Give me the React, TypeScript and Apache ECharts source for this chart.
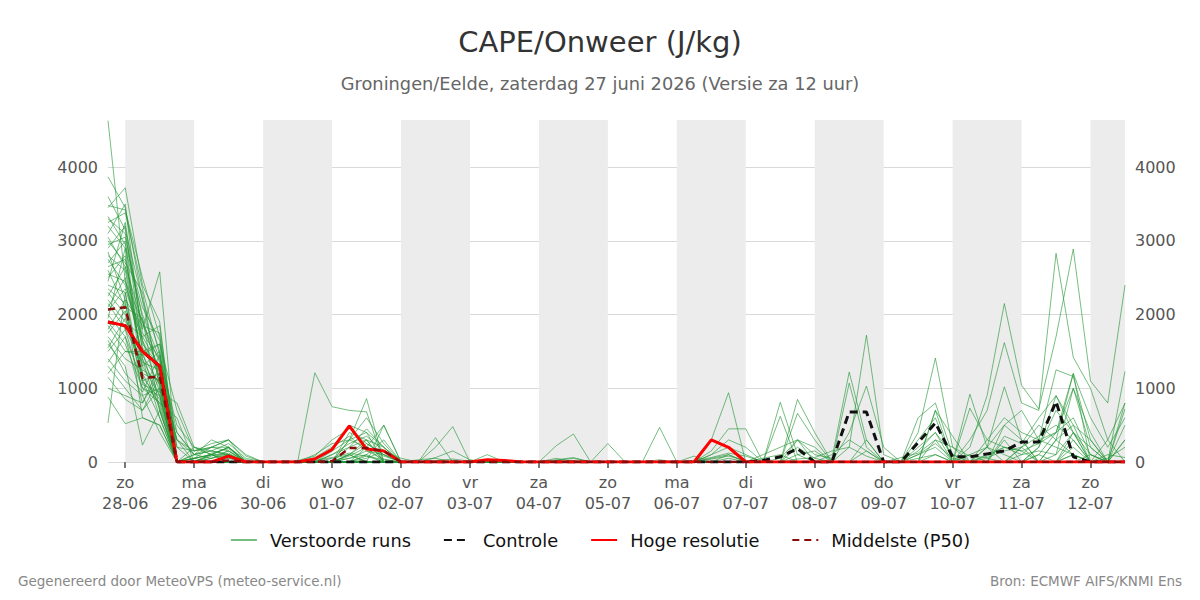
import React, { useEffect, useRef } from "react";
import * as echarts from "echarts";

// Tick labels (day boundaries)
const dayLabels = [
  "zo\n28-06", "ma\n29-06", "di\n30-06", "wo\n01-07", "do\n02-07", "vr\n03-07", "za\n04-07",
  "zo\n05-07", "ma\n06-07", "di\n07-07", "wo\n08-07", "do\n09-07", "vr\n10-07", "za\n11-07", "zo\n12-07",
];

// 6-hourly steps from 27-06 18u to 12-07 12u (60 points)
const hres = [1900,1850,1500,1300,0, 0,0,80,0, 0,0,0,40, 170,490,175,150, 0,0,0,0, 0,30,20,0, 0,0,0,0, 0,0,0,0, 0,0,300,200, 0,0,0,0, 0,0,0,0, 0,0,0,0, 0,0,0,0, 0,0,0,0, 0,0,0];
const control = [1900,1850,1500,1300,0, 0,0,0,0, 0,0,0,0, 0,0,0,0, 0,0,0,0, 0,0,0,0, 0,0,0,0, 0,0,0,0, 0,0,0,0, 0,20,70,180, 0,0,680,680, 0,0,265,530, 70,70,110,150, 270,270,820,70, 0,0,0];
const p50 = [2070,2100,1140,1160,0, 0,0,20,0, 0,0,0,0, 10,190,190,150, 0,0,0,0, 0,0,0,0, 0,0,0,0, 0,0,0,0, 0,0,0,0, 0,0,0,0, 0,0,0,0, 0,0,0,0, 0,0,0,0, 0,0,0,0, 0,0,0];

const m01 = [4630,2450,1900,1200,300, 100,150,250,50, 0,0,0,20, 60,120,80,30, 0,0,20,40, 10,0,0,0, 0,30,60,0, 0,0,10,0, 0,20,60,120, 80,0,0,40, 60,150,200,80, 0,60,120,300, 200,80,60,150, 200,350,500,300, 0,100,60];
const m02 = [3870,3450,2200,1500,0, 0,50,120,0, 0,0,0,60, 200,350,150,40, 0,0,0,10, 0,0,0,0, 0,0,20,0, 0,0,0,30, 0,0,40,80, 20,0,0,100, 150,0,200,1720, 100,0,100,250, 50,0,80,200, 150,250,400,600, 100,0,300];
const m03 = [3480,3420,2500,1700,200, 150,200,300,80, 0,0,20,80, 300,450,250,100, 0,0,60,150, 30,0,0,0, 0,0,0,0, 0,0,0,0, 0,0,100,200, 100,0,50,300, 100,50,1220,300, 0,0,150,400, 100,0,0,300, 0,200,900,400, 0,0,500];
const m04 = [3450,3720,2400,1900,0, 50,100,200,0, 0,0,0,0, 100,200,450,200, 0,0,0,0, 0,20,0,0, 0,0,0,0, 0,0,0,0, 0,0,0,50, 0,0,0,0, 0,0,400,1030, 200,0,0,700, 350,0,200,500, 300,0,100,1000, 400,0,0];
const m05 = [3300,3100,1800,2580,0, 0,80,150,0, 0,0,0,0, 0,80,200,500, 0,0,0,0, 0,0,0,0, 0,20,50,0, 0,0,0,0, 0,0,100,300, 200,0,0,0, 0,0,0,0, 0,0,300,600, 0,0,0,0, 0,0,0,100, 0,300,800];
const m06 = [3200,2900,2000,1400,500, 200,100,200,30, 0,0,0,40, 150,300,600,250, 0,0,0,0, 0,0,0,0, 0,0,0,0, 0,0,0,0, 0,0,0,0, 0,0,0,300, 200,0,1070,200, 0,0,0,0, 0,0,100,200, 150,0,300,1200, 0,0,0];
const m07 = [3100,3500,1600,1300,0, 0,0,50,0, 0,0,0,0, 0,50,100,0, 0,0,0,0, 0,0,0,0, 0,0,0,0, 0,0,0,0, 0,0,0,100, 0,0,0,200, 50,0,0,0, 0,0,400,1410, 200,0,50,0, 0,100,0,0, 0,0,0];
const m08 = [3000,2700,2300,1000,0, 100,150,100,0, 0,0,0,0, 50,100,300,200, 0,0,0,0, 0,0,0,0, 0,0,0,0, 0,0,0,0, 0,0,0,0, 0,0,0,0, 0,0,0,0, 0,0,0,0, 0,200,900,2150, 1040,720,1700,2890, 1100,800,2400];
const m09 = [2900,3200,1500,1600,700, 150,250,300,100, 0,0,0,0, 0,100,250,100, 0,0,0,0, 0,0,0,0, 0,0,0,0, 0,0,0,0, 0,0,0,0, 0,0,0,0, 0,0,0,0, 0,0,200,400, 0,300,700,1620, 800,700,2830,1420, 1000,300,0];
const m10 = [2800,2600,1400,900,0, 0,100,200,0, 0,0,0,0, 0,0,50,150, 0,0,0,0, 0,0,0,0, 0,0,0,0, 0,0,0,0, 0,0,0,0, 0,50,100,0, 0,0,0,0, 0,0,0,100, 0,0,200,1020, 300,0,0,200, 0,0,0];
const m11 = [2750,2400,1700,1850,0, 50,100,0,0, 0,0,0,0, 0,0,80,0, 0,0,0,0, 0,0,0,0, 0,0,0,0, 0,0,0,0, 0,0,0,0, 0,0,0,0, 0,0,0,0, 0,0,0,300, 0,730,300,200, 100,150,100,400, 200,0,0];
const m12 = [2700,3000,1200,1100,300, 150,200,150,0, 0,0,0,0, 0,400,300,0, 0,0,0,0, 0,0,0,0, 0,0,0,0, 0,0,0,0, 0,0,0,0, 0,0,0,0, 0,0,0,0, 0,0,0,0, 0,0,0,0, 100,300,1250,1160, 300,0,0];
const m13 = [2600,2100,1950,700,0, 0,0,100,0, 0,0,0,0, 0,0,0,0, 0,0,0,0, 0,0,0,0, 0,50,0,0, 0,0,0,0, 0,0,0,0, 0,0,0,0, 0,0,0,0, 0,0,50,100, 0,0,0,0, 0,100,400,1200, 600,200,600];
const m14 = [2500,2800,1300,1500,0, 0,50,100,0, 0,0,0,0, 0,200,300,0, 0,0,0,0, 0,0,0,0, 0,0,0,0, 0,0,0,0, 0,0,0,0, 0,0,0,0, 0,0,0,0, 0,0,600,800, 100,0,0,0, 200,0,0,400, 100,0,0];
const m15 = [2400,2300,900,1000,400, 100,200,200,0, 0,0,0,0, 0,100,0,0, 0,0,0,0, 0,0,0,0, 0,0,0,0, 0,0,0,0, 0,0,0,0, 0,0,0,0, 0,0,0,0, 0,0,0,700, 0,0,0,0, 0,0,0,0, 100,0,300];
const m16 = [2300,2000,1100,800,0, 0,0,0,0, 0,0,0,0, 0,50,150,100, 0,0,0,0, 0,0,0,0, 0,0,0,0, 0,0,0,0, 0,0,50,100, 0,0,0,0, 0,0,0,0, 0,0,0,0, 0,100,200,100, 0,0,0,300, 0,0,1230];
const m17 = [2200,1900,1700,1300,0, 50,100,50,0, 0,0,0,0, 0,0,0,0, 0,0,0,0, 0,0,0,0, 0,0,0,0, 0,0,0,0, 0,0,0,0, 0,0,0,0, 0,100,300,150, 0,0,0,0, 0,0,0,0, 200,500,300,100, 0,0,800];
const m18 = [2100,2500,1400,600,0, 0,0,100,0, 0,0,0,0, 0,300,400,200, 0,0,0,0, 0,0,0,0, 0,0,0,0, 0,0,0,0, 0,0,0,0, 0,0,0,0, 0,0,0,0, 0,0,0,0, 0,0,0,0, 0,0,0,0, 0,0,720];
const m19 = [2000,1700,800,1200,200, 0,0,0,0, 0,0,0,0, 0,0,0,0, 0,0,0,0, 0,0,0,0, 0,0,0,0, 0,0,0,0, 0,0,0,0, 0,0,0,850, 400,0,0,0, 0,0,0,0, 0,0,0,0, 0,0,0,0, 0,0,0];
const m20 = [1900,1600,1000,900,0, 0,0,0,0, 0,0,0,0, 0,0,0,0, 0,0,0,0, 0,0,0,0, 0,0,0,0, 0,0,0,0, 0,0,0,0, 0,0,810,100, 0,0,0,0, 0,0,0,0, 0,0,0,0, 0,0,0,0, 0,0,0];
const m21 = [1800,2200,600,500,0, 0,0,0,0, 0,0,0,0, 0,0,0,0, 0,0,0,0, 0,0,0,0, 0,0,0,0, 0,0,0,0, 0,0,300,940, 0,0,0,0, 0,0,0,0, 0,0,0,0, 0,0,0,0, 0,0,0,0, 0,0,0];
const m22 = [1700,1400,1250,1100,0, 0,0,0,0, 0,0,0,1210, 750,700,680,0, 0,0,0,0, 0,0,0,0, 0,0,0,0, 0,0,0,0, 0,0,0,0, 0,0,0,0, 0,0,0,0, 0,0,0,0, 0,0,0,0, 0,0,0,0, 0,0,0];
const m23 = [1600,1300,230,700,0, 0,0,0,0, 0,0,0,0, 0,300,860,0, 0,0,0,0, 0,0,0,0, 0,0,0,0, 0,0,0,0, 0,0,0,0, 0,0,0,0, 0,0,0,0, 0,0,0,0, 0,0,0,0, 0,0,0,0, 0,0,0];
const m24 = [1500,1800,1000,800,600, 0,0,0,0, 0,0,0,0, 0,0,0,500, 0,0,0,0, 0,0,0,0, 0,0,0,0, 0,0,0,0, 0,0,0,0, 0,0,0,0, 0,0,0,0, 0,0,0,0, 0,0,0,0, 0,0,0,0, 0,0,0];
const m25 = [1400,1100,900,400,0, 0,0,0,0, 0,0,0,0, 0,0,0,0, 0,0,200,480, 0,0,0,0, 0,0,0,0, 0,0,0,0, 0,0,0,0, 0,0,0,0, 0,0,0,0, 0,0,0,0, 0,0,0,0, 0,0,0,0, 0,0,0];
const m26 = [1300,1000,700,1000,0, 0,0,0,0, 0,0,0,0, 0,0,0,0, 0,0,330,0, 0,0,0,0, 0,0,0,0, 0,0,0,0, 0,0,0,0, 0,0,0,0, 0,0,0,0, 0,0,0,0, 0,0,0,0, 0,0,0,0, 0,0,0];
const m27 = [1200,1500,1500,700,0, 0,0,0,0, 0,0,0,0, 0,0,0,0, 0,0,0,0, 0,0,0,0, 0,220,380,0, 0,0,0,0, 0,0,0,0, 0,0,0,0, 0,0,0,0, 0,0,0,0, 0,0,0,0, 0,0,0,0, 0,0,0];
const m28 = [1000,900,800,1300,0, 0,0,0,0, 0,0,0,0, 0,0,0,0, 0,0,0,0, 0,0,0,0, 0,0,0,0, 250,0,0,0, 0,0,0,0, 0,0,0,0, 0,0,0,0, 0,0,0,0, 0,0,0,0, 0,0,0,0, 0,0,0];
const m29 = [880,520,600,500,0, 0,0,0,0, 0,0,0,0, 0,0,0,0, 0,0,0,0, 0,0,0,0, 0,0,0,0, 0,0,0,470, 0,0,0,0, 0,0,0,0, 0,0,0,0, 0,0,0,0, 0,0,0,0, 0,0,0,0, 0,0,0];
const m30 = [530,2300,1100,600,0, 0,0,0,0, 0,0,0,0, 0,0,0,0, 0,0,0,0, 0,0,0,0, 0,0,0,0, 0,0,0,0, 0,0,0,0, 0,0,0,660, 300,0,0,0, 0,0,0,0, 0,0,0,0, 0,0,0,0, 0,0,0];
const m31 = [3330,2950,2100,1650,0, 0,120,180,0, 0,0,0,100, 250,300,200,80, 0,30,50,0, 0,0,0,0, 0,0,0,0, 0,0,0,0, 0,0,0,0, 0,100,200,300, 0,0,0,150, 0,0,100,200, 0,0,300,600, 400,300,200,100, 0,50,200];
const m32 = [3250,3380,2350,1450,400, 100,50,150,0, 0,0,0,0, 100,250,350,150, 50,0,0,0, 0,100,0,0, 0,0,0,0, 0,0,0,0, 0,80,0,0, 0,0,0,0, 0,0,0,0, 0,0,0,0, 0,0,0,350, 250,600,900,500, 0,0,0];
const m33 = [3050,2650,1550,1250,0, 200,150,100,0, 0,0,0,0, 0,0,100,300, 0,0,0,0, 0,0,0,0, 0,0,0,0, 0,0,0,0, 0,0,150,450, 450,0,0,0, 0,0,0,300, 0,0,0,0, 0,0,0,0, 0,0,0,0, 0,0,0];
const m34 = [2950,3050,1950,1150,0, 0,100,100,0, 0,0,0,0, 0,0,0,0, 0,0,0,0, 0,0,0,0, 0,0,0,0, 0,0,0,0, 0,0,0,0, 0,0,620,0, 0,0,0,0, 0,0,0,0, 0,0,0,500, 700,300,400,1000, 200,0,0];
const m35 = [2850,2200,1850,1750,0, 50,200,300,0, 0,0,0,0, 150,500,400,0, 0,0,0,0, 0,0,0,0, 0,0,0,0, 0,0,0,0, 0,0,0,0, 0,0,0,0, 0,0,0,0, 0,0,0,0, 0,100,0,0, 0,0,0,0, 0,0,0];
const m36 = [2650,2750,1650,950,0, 0,0,80,0, 0,0,0,0, 0,0,0,0, 0,0,0,0, 0,0,0,0, 0,0,0,0, 0,0,0,0, 0,0,0,0, 0,0,0,0, 0,0,0,0, 0,0,0,0, 0,920,200,0, 0,0,0,0, 0,0,0];
const m37 = [2550,2450,1450,1050,0, 0,0,0,0, 0,0,0,0, 0,0,0,0, 0,0,0,0, 0,0,0,0, 0,0,0,0, 0,0,0,0, 0,0,0,0, 0,0,0,0, 0,0,0,0, 0,0,0,0, 0,0,0,0, 0,0,0,100, 0,0,0];
const m38 = [2450,3250,1750,1400,0, 100,300,200,0, 0,0,0,0, 0,0,0,0, 0,0,0,0, 0,0,0,0, 0,0,0,0, 0,0,0,0, 0,0,0,0, 0,0,0,0, 0,0,0,0, 0,0,0,0, 0,0,0,0, 0,0,0,0, 0,0,0];
const m39 = [2350,2150,1150,850,0, 0,0,0,0, 0,0,0,0, 0,100,0,0, 0,0,0,0, 0,0,0,0, 0,0,0,0, 0,0,0,0, 0,0,0,0, 0,0,0,0, 0,0,0,0, 0,0,0,0, 0,0,0,0, 0,200,700,400, 0,0,0];
const m40 = [2250,2650,1900,1350,0, 0,0,0,0, 0,0,0,0, 0,0,0,0, 0,0,0,0, 0,0,0,0, 0,0,0,0, 0,0,0,0, 0,0,0,0, 0,0,0,0, 0,0,0,0, 0,0,0,0, 0,0,0,0, 0,0,0,0, 0,0,0];
const m41 = [2150,1800,1350,1250,300, 0,0,0,0, 0,0,0,0, 0,0,0,0, 0,0,0,0, 0,0,0,0, 0,0,0,0, 0,0,0,0, 0,0,0,0, 0,0,0,0, 0,0,0,0, 0,0,0,0, 0,0,0,0, 0,0,0,0, 0,0,0];
const m42 = [2050,2350,1650,1150,0, 50,0,100,0, 0,0,0,0, 0,0,200,0, 0,0,0,0, 0,0,0,0, 0,0,0,0, 0,0,0,0, 0,0,0,0, 0,0,0,0, 0,0,0,0, 0,0,0,0, 0,0,0,0, 0,0,0,0, 0,0,0];
const m43 = [1950,2900,1050,950,800, 200,100,0,0, 0,0,0,0, 0,0,0,0, 0,0,0,0, 0,0,0,0, 0,0,0,0, 0,0,0,0, 0,0,0,0, 0,0,0,0, 0,0,0,0, 0,0,0,0, 0,0,0,0, 0,0,300,500, 300,0,0];
const m44 = [1850,1500,1450,1600,0, 0,0,0,0, 0,0,0,0, 0,0,0,0, 0,0,0,0, 0,0,0,0, 0,0,0,0, 0,0,0,0, 0,0,0,0, 0,0,0,0, 0,0,0,0, 0,0,0,0, 0,0,0,0, 0,0,0,0, 0,0,0];
const m45 = [1750,2050,1200,750,0, 0,0,0,0, 0,0,0,0, 0,0,0,0, 0,0,0,0, 0,0,0,0, 0,0,0,0, 0,0,0,0, 0,0,0,0, 0,0,0,0, 0,0,0,0, 0,0,0,0, 0,0,0,0, 0,0,0,0, 0,0,0];
const m46 = [1650,1200,950,1450,0, 0,0,0,0, 0,0,0,0, 0,0,0,0, 0,0,0,0, 0,0,0,0, 0,0,0,0, 0,0,0,0, 0,0,0,0, 0,0,0,0, 0,0,0,0, 0,0,0,0, 0,0,0,0, 0,0,0,0, 0,0,0];
const m47 = [1550,1950,1300,900,0, 0,0,0,0, 0,0,0,0, 0,0,0,0, 0,0,0,0, 0,0,0,0, 0,0,0,0, 0,0,0,0, 0,0,0,0, 0,0,0,0, 0,0,0,0, 0,0,0,0, 0,0,0,0, 0,0,0,0, 0,0,0];
const m48 = [1350,1700,1100,1200,0, 0,0,0,0, 0,0,0,0, 0,0,0,0, 0,0,0,0, 0,0,0,0, 0,0,0,0, 0,0,0,0, 0,0,0,0, 0,0,0,0, 0,0,0,0, 0,0,0,0, 0,0,0,0, 0,0,0,0, 0,0,0];
const m49 = [1150,850,700,1150,0, 0,0,0,0, 0,0,0,0, 0,0,0,0, 0,0,0,0, 0,0,0,0, 0,0,0,0, 0,0,0,0, 0,0,0,0, 0,0,0,0, 0,0,0,0, 0,0,0,0, 0,0,0,0, 0,0,0,0, 0,0,0];
const m50 = [3600,3150,2200,1050,0, 0,0,0,0, 0,0,0,0, 0,0,0,0, 0,0,0,0, 0,0,0,0, 0,0,0,0, 0,0,0,0, 0,0,0,0, 0,0,0,0, 0,0,0,0, 0,0,0,0, 0,0,0,0, 0,0,0,0, 0,0,0];

const members = [m01,m02,m03,m04,m05,m06,m07,m08,m09,m10,m11,m12,m13,m14,m15,m16,m17,m18,m19,m20,m21,m22,m23,m24,m25,
  m26,m27,m28,m29,m30,m31,m32,m33,m34,m35,m36,m37,m38,m39,m40,m41,m42,m43,m44,m45,m46,m47,m48,m49,m50];

// shaded days: start/end category index
const shadedDays = [[1, 5], [9, 13], [17, 21], [25, 29], [33, 37], [41, 45], [49, 53], [57, 59]];

const FONT = "DejaVu Sans";
const GREEN = "rgba(34,150,52,0.62)";

function buildCategories(): string[] {
  const cats: string[] = ["27-06 18u"];
  for (let i = 1; i < 60; i++) {
    const d = Math.floor((i - 1) / 4);
    const h = ((i - 1) % 4) * 6;
    const base = dayLabels[d];
    cats.push(h === 0 ? base : base.replace("\n", " ") + " " + h + "u");
  }
  return cats;
}

export default function App() {
  const ref = useRef<HTMLDivElement>(null);
  useEffect(() => {
    if (!ref.current) return;
    const chart = echarts.init(ref.current, null, { renderer: "svg" });
    const cats = buildCategories();
    const isDay = (idx: number) => idx % 4 === 1;
    const series: any[] = members.map((m, k) => ({
      name: "Verstoorde runs",
      type: "line",
      data: m,
      symbol: "none",
      silent: true,
      lineStyle: { width: 1, color: GREEN },
      itemStyle: { color: GREEN },
      markArea: k === 0 ? {
        silent: true,
        itemStyle: { color: "#ececec" },
        data: shadedDays.map(([a, b]) => [{ xAxis: a }, { xAxis: b }]),
      } : undefined,
      z: 2,
    }));
    series.push({
      name: "Controle", type: "line", data: control, symbol: "none",
      lineStyle: { width: 3, color: "#111", type: [8, 5] }, itemStyle: { color: "#111" }, z: 3,
    });
    series.push({
      name: "Hoge resolutie", type: "line", data: hres, symbol: "none",
      lineStyle: { width: 3, color: "#ff0000" }, itemStyle: { color: "#ff0000" }, z: 4,
    });
    series.push({
      name: "Middelste (P50)", type: "line", data: p50, symbol: "none",
      lineStyle: { width: 2.5, color: "#8b0a0a", type: [7, 5] }, itemStyle: { color: "#8b0a0a" }, z: 5,
    });
    const yCommon = {
      type: "value", min: 0, max: 4640, interval: 1000,
      axisLine: { show: false }, axisTick: { show: false },
      axisLabel: { showMaxLabel: false, formatter: (v: number) => String(v), fontFamily: FONT, fontSize: 16, color: "#555", margin: 10 },
    };
    const titleBase = { fontFamily: FONT, fontWeight: "normal" };
    chart.setOption({
      animation: false,
      textStyle: { fontFamily: FONT },
      title: [
        { text: "CAPE/Onweer (J/kg)", left: "center", top: 22, textStyle: { ...titleBase, fontSize: 29, color: "#333" } },
        { text: "Groningen/Eelde, zaterdag 27 juni 2026 (Versie za 12 uur)", left: "center", top: 69, textStyle: { ...titleBase, fontSize: 17.8, color: "#666" } },
        { text: "Gegenereerd door MeteoVPS (meteo-service.nl)", left: 18, top: 574, padding: 0, textStyle: { ...titleBase, fontSize: 13.5, color: "#888" } },
        { text: "Bron: ECMWF AIFS/KNMI Ens", right: 18, top: 574, padding: 0, textStyle: { ...titleBase, fontSize: 13.5, color: "#888" } },
      ],
      legend: {
        top: 526, left: "center", itemWidth: 26, itemHeight: 14, itemGap: 32,
        itemStyle: { color: "transparent", borderWidth: 0, borderColor: "transparent" },
        textStyle: { fontFamily: FONT, fontSize: 17.8, color: "#111", padding: [0, 0, 0, 8] },
        data: ["Verstoorde runs", "Controle", "Hoge resolutie", "Middelste (P50)"],
      },
      grid: { left: 108, right: 75, top: 120, bottom: 138, containLabel: false },
      xAxis: {
        type: "category", data: cats, boundaryGap: false,
        axisLine: { show: false },
        axisTick: { show: true, interval: (i: number) => isDay(i), length: 6, lineStyle: { color: "#777", width: 2 } },
        axisLabel: { interval: (i: number) => isDay(i), fontFamily: FONT, fontSize: 16, color: "#555", lineHeight: 21, margin: 10 },
        splitLine: { show: false },
      },
      yAxis: [
        { ...yCommon, position: "left", splitLine: { show: true, showMaxLine: false, lineStyle: { color: "#d9d9d9", width: 1 } } },
        { ...yCommon, position: "right", splitLine: { show: false } },
      ],
      series,
    });
    return () => chart.dispose();
  }, []);
  return <div ref={ref} style={{ position: "fixed", left: 0, top: 0, width: 1200, height: 600, background: "#fff" }} />;
}
